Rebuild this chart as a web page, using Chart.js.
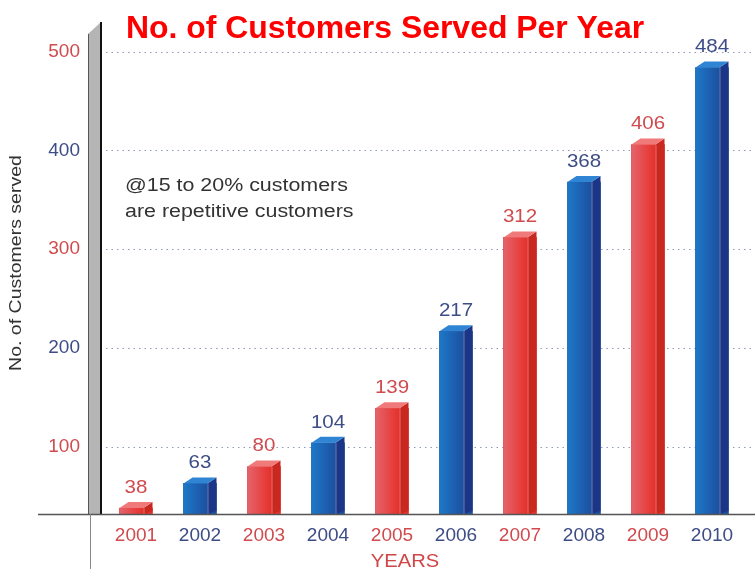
<!DOCTYPE html>
<html>
<head>
<meta charset="utf-8">
<script src="https://cdn.jsdelivr.net/npm/chart.js@4.4.0/dist/chart.umd.min.js"></script>
<style>
  html, body { margin: 0; padding: 0; background: #fff; }
  #wrap { width: 755px; height: 569px; position: relative; }
</style>
</head>
<body>
<div id="wrap"><canvas id="customersChart"></canvas></div>
<script>
// ==========================================
// DATA
// ==========================================
const years = ['2001', '2002', '2003', '2004', '2005', '2006', '2007', '2008', '2009', '2010'];
const customers = [38, 63, 80, 104, 139, 217, 312, 368, 406, 484];
const yTicks = [100, 200, 300, 400, 500];
const noteLines = ['@15 to 20% customers', 'are repetitive customers'];
const Y_MIN = 32;    // the original axis does not start at zero
const Y_MAX = 527;

const palette = {
    red: { front0: '#e4646c', front1: '#e6302a', side: '#c8281f', top: '#f07a7a', text: '#cf4b4f' },
    blue: { front0: '#1d78c8', front1: '#1c509f', side: '#1b3687', top: '#2f84d4', text: '#3d4d85' }
};
const FONT = '"Liberation Sans", Arial, sans-serif';
const FRONT_W = 24;   // front face width, the rest is the side face
const DEPTH = 6;      // vertical rise of the top face

const pick = (i) => (i % 2 === 0 ? palette.red : palette.blue);

// text a bit wider than the font, like the original picture
function wideText(ctx, text, x, y, sx) {
    ctx.save();
    ctx.translate(x, y);
    ctx.scale(sx, 1);
    ctx.fillText(text, 0, 0);
    ctx.restore();
}

// ==========================================
// PLUGINS
// ==========================================
const background = {
    id: 'background',
    beforeDraw(chart) {
        const { ctx } = chart;
        ctx.save();
        ctx.fillStyle = '#ffffff';
        ctx.fillRect(0, 0, chart.width, chart.height);
        ctx.restore();
    }
};

// dotted grid lines running to the right edge
const dottedGrid = {
    id: 'dottedGrid',
    beforeDatasetsDraw(chart) {
        const { ctx, scales: { y }, chartArea } = chart;
        ctx.save();
        ctx.strokeStyle = '#8f9bbd';
        ctx.lineWidth = 1;
        ctx.setLineDash([1.5, 4]);
        yTicks.forEach(v => {
            const py = Math.round(y.getPixelForValue(v)) + 0.5;
            ctx.beginPath();
            ctx.moveTo(chartArea.left + 2, py);
            ctx.lineTo(chart.width, py);
            ctx.stroke();
        });
        ctx.restore();
    }
};

// 3D faces + value labels
const bars3d = {
    id: 'bars3d',
    afterDatasetsDraw(chart) {
        const { ctx } = chart;
        const meta = chart.getDatasetMeta(0);
        ctx.save();
        meta.data.forEach((bar, i) => {
            const c = pick(i);
            const L = bar.x - bar.width / 2;
            const R = bar.x + bar.width / 2;
            const F = L + FRONT_W;
            const top = bar.y;
            const base = bar.base;

            const g = ctx.createLinearGradient(L, 0, F, 0);
            g.addColorStop(0, c.front0);
            g.addColorStop(1, c.front1);
            ctx.fillStyle = g;
            ctx.fillRect(L, top, F - L, base - top);

            ctx.fillStyle = c.side;
            ctx.beginPath();
            ctx.moveTo(F, top);
            ctx.lineTo(R, top - DEPTH);
            ctx.lineTo(R, base - 3);
            ctx.lineTo(F, base);
            ctx.closePath();
            ctx.fill();

            ctx.fillStyle = c.top;
            ctx.beginPath();
            ctx.moveTo(L, top);
            ctx.lineTo(F, top);
            ctx.lineTo(R, top - DEPTH);
            ctx.lineTo(L + (R - F), top - DEPTH);
            ctx.closePath();
            ctx.fill();

            ctx.strokeStyle = 'rgba(255,255,255,0.35)';
            ctx.lineWidth = 1;
            ctx.beginPath();
            ctx.moveTo(F + 0.5, top);
            ctx.lineTo(F + 0.5, base);
            ctx.stroke();

            ctx.fillStyle = c.text;
            ctx.font = `19px ${FONT}`;
            ctx.textAlign = 'center';
            ctx.textBaseline = 'bottom';
            wideText(ctx, String(customers[i]), bar.x, top - DEPTH - 5, 1.08);
        });
        ctx.restore();
    }
};

// axes decoration, titles and note
const decor = {
    id: 'decor',
    afterDraw(chart) {
        const { ctx, chartArea } = chart;
        const bottom = chartArea.bottom;
        ctx.save();

        // gray 3D left wall
        ctx.fillStyle = '#b5b5b5';
        ctx.beginPath();
        ctx.moveTo(88, 34);
        ctx.lineTo(100, 23);
        ctx.lineTo(100, bottom);
        ctx.lineTo(88, bottom);
        ctx.closePath();
        ctx.fill();
        ctx.strokeStyle = '#555';
        ctx.lineWidth = 1;
        ctx.beginPath();
        ctx.moveTo(88.5, 34);
        ctx.lineTo(88.5, bottom);
        ctx.stroke();
        ctx.strokeStyle = '#111';
        ctx.lineWidth = 2;
        ctx.beginPath();
        ctx.moveTo(101, 22);
        ctx.lineTo(101, bottom);
        ctx.stroke();

        // x axis line + lower divider
        ctx.strokeStyle = '#555';
        ctx.lineWidth = 1.5;
        ctx.beginPath();
        ctx.moveTo(38, bottom + 0.5);
        ctx.lineTo(chart.width, bottom + 0.5);
        ctx.stroke();
        ctx.strokeStyle = '#888';
        ctx.lineWidth = 1;
        ctx.beginPath();
        ctx.moveTo(90.5, bottom);
        ctx.lineTo(90.5, chart.height);
        ctx.stroke();

        // title
        ctx.fillStyle = '#ff0000';
        ctx.font = `bold 31px ${FONT}`;
        ctx.textAlign = 'center';
        ctx.textBaseline = 'middle';
        wideText(ctx, 'No. of Customers Served Per Year', 385, 29, 1.03);

        // note
        ctx.fillStyle = '#333';
        ctx.font = `18px ${FONT}`;
        ctx.textAlign = 'left';
        wideText(ctx, noteLines[0], 125, 186, 1.19);
        wideText(ctx, noteLines[1], 125, 212, 1.19);

        // x title
        ctx.fillStyle = '#d04545';
        ctx.font = `18px ${FONT}`;
        ctx.textAlign = 'center';
        wideText(ctx, 'YEARS', 405, 562, 1.12);

        // y title
        ctx.translate(17, 263);
        ctx.rotate(-Math.PI / 2);
        ctx.fillStyle = '#333';
        ctx.font = `16px ${FONT}`;
        wideText(ctx, 'No. of Customers served', 0, 0, 1.22);

        ctx.restore();
    }
};

// ==========================================
// CHART
// ==========================================
new Chart(document.getElementById('customersChart'), {
    type: 'bar',
    data: {
        labels: years,
        datasets: [{
            data: customers,
            base: Y_MIN,
            backgroundColor: years.map((_, i) => pick(i).front1),
            borderWidth: 0,
            barThickness: 33
        }]
    },
    options: {
        responsive: true,
        maintainAspectRatio: false,
        animation: false,
        devicePixelRatio: 1,
        layout: { padding: { top: 25, right: 11, bottom: 0, left: 0 } },
        plugins: {
            legend: { display: false },
            tooltip: { enabled: false },
            title: { display: false }
        },
        scales: {
            x: {
                grid: { display: false },
                border: { display: false },
                ticks: {
                    color: (ctx) => pick(ctx.index).text,
                    font: { family: FONT, size: 19 },
                    padding: 2,
                    maxRotation: 0
                },
                afterFit: (scale) => {
                    scale.height = 55;
                    scale.paddingLeft = 0;
                    scale.paddingRight = 0;
                }
            },
            y: {
                min: Y_MIN,
                max: Y_MAX,
                grid: { display: false, drawTicks: false },
                border: { display: false },
                afterBuildTicks: (scale) => { scale.ticks = yTicks.map(v => ({ value: v })); },
                ticks: {
                    color: (ctx) => (ctx.tick.value / 100) % 2 === 1 ? palette.red.text : palette.blue.text,
                    font: { family: FONT, size: 19 },
                    padding: 24
                },
                afterFit: (scale) => {
                    scale.width = 104;
                    scale.paddingTop = 0;
                    scale.paddingBottom = 0;
                }
            }
        }
    },
    plugins: [background, dottedGrid, bars3d, decor]
});
</script>
</body>
</html>
